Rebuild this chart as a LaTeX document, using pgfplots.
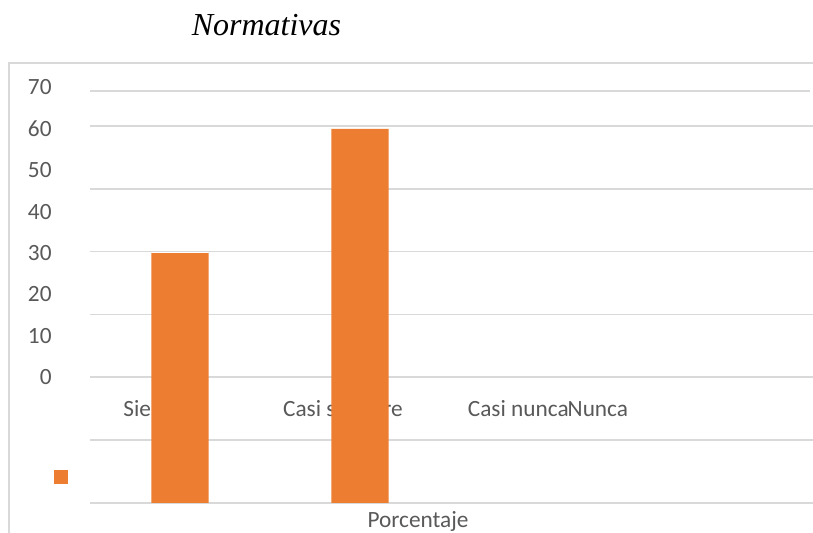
\documentclass[border=0pt]{standalone}
\usepackage{pgfplots}
\pgfplotsset{compat=1.18}
\usepackage{fontspec}
\setmainfont{Carlito}
\newfontfamily\titlefont{Liberation Serif}
\definecolor{barorange}{HTML}{ED7D31}
\definecolor{gridgray}{HTML}{D9D9D9}
\definecolor{textgray}{HTML}{595959}
\pgfplotsset{
  layers/mylayers/.define layer set={axis background,axis ticks,axis tick labels,pre main,main,axis grid,axis lines,axis descriptions,axis foreground}{},
}
\begin{document}
\begin{tikzpicture}
\begin{axis}[
  set layers=mylayers,
  scale only axis, width=361.5bp, height=220bp,
  at={(0,0)}, anchor=south west,
  xmin=-0.5, xmax=3.5167,
  ymin=0, ymax=106.26,
  axis line style={draw=none},
  major tick length=0pt, minor tick length=0pt,
  ytick={30.36,40.36,50.36,60.36,70.36,80.36,90.36,100.36},
  yticklabels={0,10,20,30,40,50,60,70},
  yticklabel style={anchor=east, inner sep=0pt, xshift=-19bp, text=textgray, font=\fontsize{11.65bp}{14bp}\selectfont},
  minor ytick={0,15.18,30.36,45.54,60.72,75.9,91.08,106.26},
  yminorgrids=true, ymajorgrids=false, xmajorgrids=false,
  minor grid style={draw=gridgray, line width=0.8bp},
  xtick={-0.3167,0.5706,2.1517,2.1517},
  xticklabels={Siempre,Casi siempre,\llap{Casi nunca},Nunca},
  xticklabel style={anchor=base west, inner sep=0pt, yshift=43bp, text=textgray, font=\fontsize{11.65bp}{14bp}\selectfont},
  xlabel={Porcentaje},
  xlabel style={at={(axis description cs:0.4537,0)}, anchor=base, yshift=-12bp, inner sep=0pt, text=textgray, font=\fontsize{11.65bp}{14bp}\selectfont},
  title={Normativas},
  title style={at={(axis description cs:0.2441,1)}, anchor=base, yshift=8bp, inner sep=0pt, font=\titlefont\itshape\fontsize{16bp}{19bp}\selectfont},
  legend image code/.code={\fill[barorange] (0bp,-3.5bp) rectangle (7bp,3.5bp);},
  legend style={at={(axis description cs:-0.0498,0.0591)}, anchor=west, draw=none, fill=none, inner sep=0pt, outer sep=0pt},
]
\addplot[ybar, bar width=0.3167, fill=barorange, draw=none, y filter/.expression={y==0 ? nan : y+30.36}] coordinates {(0,30) (1,60) (2,0) (3,0)};
\addlegendentry{}
\addplot[gridgray, line width=0.8bp, mark=none, forget plot] coordinates {(-0.5,99.43) (3.5,99.43)};
\end{axis}
\draw[gridgray, line width=1bp] (-40.5bp,-15bp) -- (-40.5bp,220bp) -- (361.5bp,220bp);
\pgfresetboundingbox
\useasboundingbox (-45bp,-15bp) rectangle (361.5bp,251.5bp);
\end{tikzpicture}
\end{document}
